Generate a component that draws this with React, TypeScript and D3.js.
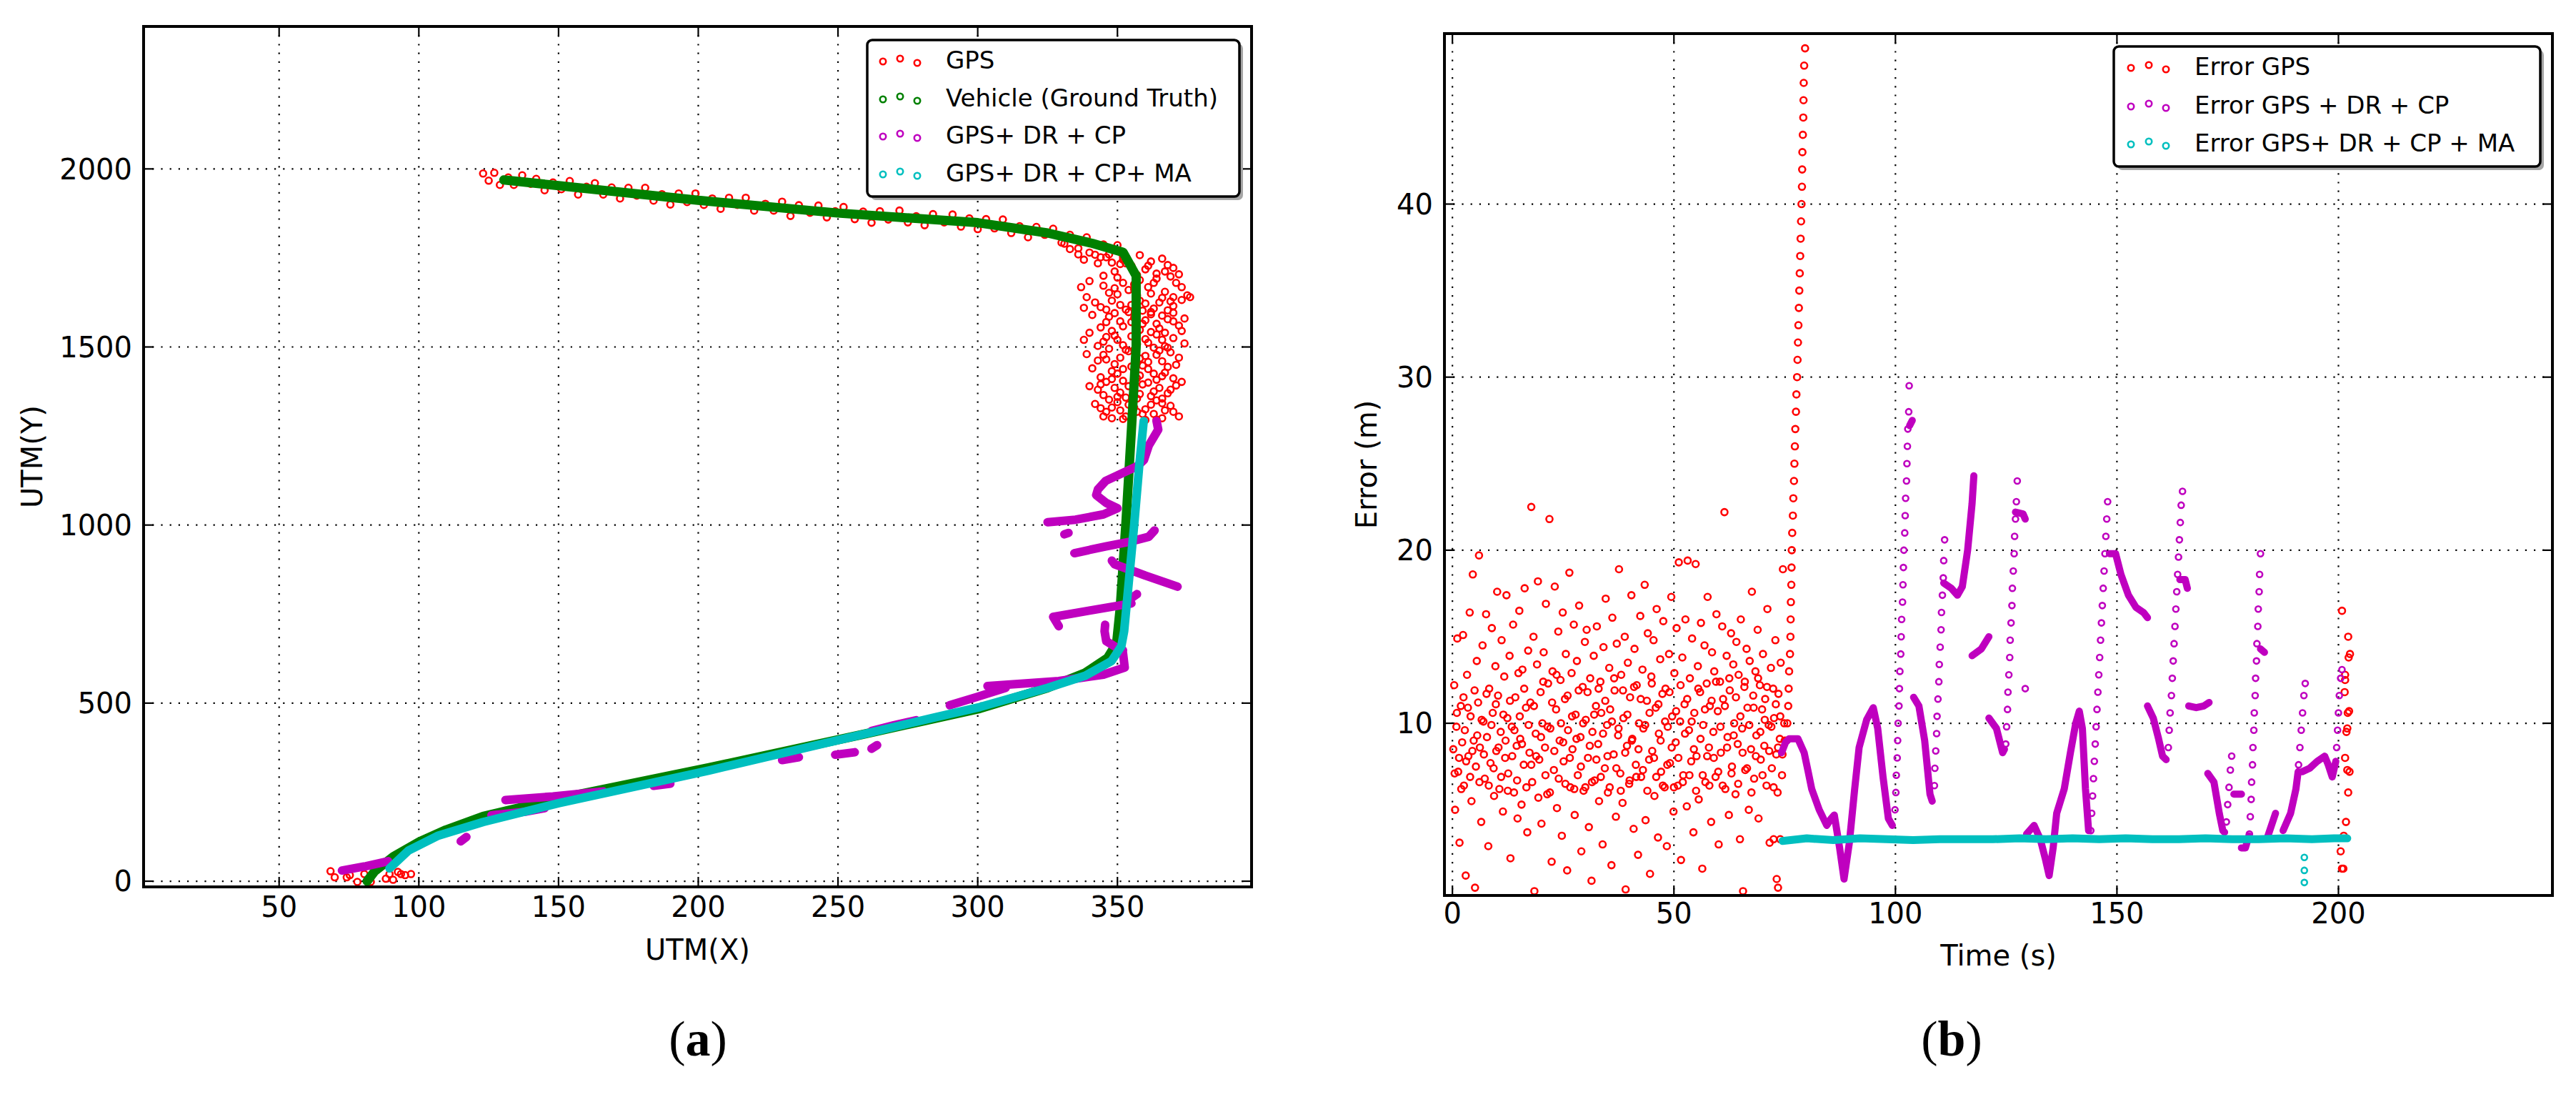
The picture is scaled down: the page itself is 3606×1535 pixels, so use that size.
import React from "react";
import * as d3 from "d3";

// ---- panel (a): trajectory in UTM ----
const xTicksA = [50, 100, 150, 200, 250, 300, 350];
const yTicksA = [0, 500, 1000, 1500, 2000];
const legendA = ["GPS", "Vehicle (Ground Truth)", "GPS+ DR + CP", "GPS+ DR + CP+ MA"];

// GPS fixes along the top leg
const gpsTop: [number, number][] = [
  [123, 1987], [125, 1967], [127, 1989], [129, 1955], [132, 1976], [134, 1955], [137, 1982], [140, 1958],
  [142, 1972], [145, 1940], [148, 1962], [151, 1943], [154, 1966], [157, 1928], [160, 1950], [163, 1960],
  [166, 1928], [169, 1948], [172, 1917], [175, 1947], [178, 1925], [181, 1947], [184, 1911], [187, 1929],
  [190, 1900], [193, 1931], [196, 1907], [199, 1931], [202, 1899], [205, 1917], [208, 1888], [211, 1919],
  [214, 1899], [217, 1919], [220, 1883], [224, 1902], [227, 1883], [230, 1908], [233, 1868], [236, 1898],
  [240, 1877], [243, 1897], [246, 1864], [249, 1881], [252, 1893], [256, 1859], [259, 1880], [262, 1849],
  [265, 1881], [268, 1858], [272, 1883], [275, 1850], [278, 1867], [281, 1842], [284, 1873], [288, 1850],
  [291, 1872], [294, 1838], [297, 1861], [300, 1831], [303, 1859], [306, 1833], [309, 1858], [312, 1820],
  [315, 1839], [318, 1808], [321, 1837], [324, 1815], [327, 1832], [330, 1793], [333, 1815], [336, 1777],
  [339, 1808], [342, 1759], [345, 1788], [348, 1737], [350, 1786], [352, 1754],
  [333, 1775], [336, 1760], [338, 1745], [340, 1765], [344, 1752], [331, 1790],
];

// GPS fixes scattered around the turn and the northbound leg
const gpsCluster: [number, number][] = [
  [346, 1752], [352, 1745], [358, 1758], [362, 1740], [366, 1748], [370, 1722], [355, 1728], [349, 1712],
  [360, 1718], [364, 1706], [343, 1735], [372, 1704], [357, 1702], [351, 1733], [368, 1730],
  [340, 1685], [345, 1672], [350, 1695], [354, 1660], [358, 1688], [361, 1668], [364, 1692], [367, 1655],
  [371, 1680], [375, 1645], [347, 1652], [356, 1676], [362, 1650], [369, 1698], [352, 1680], [373, 1668],
  [339, 1640], [344, 1612], [348, 1630], [353, 1605], [357, 1645], [360, 1622], [363, 1608], [366, 1638],
  [370, 1615], [373, 1632], [350, 1648], [355, 1618], [359, 1602], [365, 1625], [342, 1625], [368, 1603],
  [341, 1590], [346, 1570], [349, 1595], [352, 1558], [356, 1582], [359, 1565], [362, 1592], [365, 1552],
  [368, 1578], [372, 1560], [344, 1555], [354, 1598], [360, 1575], [366, 1588], [351, 1572], [370, 1596],
  [340, 1540], [345, 1515], [348, 1545], [352, 1505], [355, 1530], [358, 1548], [361, 1512], [364, 1535],
  [367, 1502], [370, 1525], [373, 1545], [350, 1520], [357, 1508], [362, 1542], [343, 1503], [366, 1520],
  [339, 1480], [343, 1462], [347, 1495], [351, 1470], [354, 1488], [357, 1455], [360, 1475], [363, 1498],
  [366, 1460], [369, 1485], [372, 1470], [349, 1452], [356, 1492], [361, 1458], [345, 1478], [365, 1490],
  [341, 1440], [344, 1415], [348, 1432], [352, 1405], [355, 1445], [358, 1420], [361, 1438], [364, 1408],
  [367, 1428], [370, 1412], [346, 1402], [350, 1425], [359, 1448], [363, 1425], [368, 1444], [373, 1402],
  [340, 1390], [345, 1365], [349, 1385], [353, 1358], [356, 1378], [359, 1395], [362, 1362], [365, 1385],
  [368, 1370], [371, 1392], [347, 1352], [351, 1372], [357, 1355], [363, 1375], [343, 1380], [366, 1355],
  [342, 1340], [346, 1318], [350, 1345], [353, 1305], [356, 1330], [359, 1312], [362, 1338], [364, 1296],
  [367, 1322], [372, 1305], [348, 1300], [355, 1292], [360, 1325], [344, 1328], [366, 1342], [351, 1322],
  [347, 1760], [353, 1735], [361, 1728], [367, 1712], [345, 1700], [356, 1662], [363, 1680], [349, 1665],
  [370, 1640], [358, 1630], [346, 1605], [351, 1618], [369, 1628], [362, 1598], [355, 1570], [347, 1585],
  [364, 1565], [370, 1572], [357, 1538], [349, 1532], [367, 1540], [360, 1522], [346, 1528], [353, 1492],
  [368, 1498], [358, 1468], [346, 1465], [364, 1478], [371, 1450], [352, 1438], [357, 1412], [366, 1418],
  [348, 1410], [361, 1400], [354, 1390], [369, 1380], [344, 1395], [358, 1368], [350, 1360], [364, 1350],
  [348, 1330], [357, 1318], [363, 1312], [369, 1335], [354, 1338], [345, 1305], [360, 1295], [370, 1318],
  [352, 1298], [366, 1300], [374, 1580], [376, 1640], [337, 1668], [338, 1610], [374, 1510], [338, 1520],
];

// GPS fixes near the start point
const gpsStart: [number, number][] = [
  [68.4, 28], [69.9, 11], [74.2, 11], [75.3, 17], [78, -2], [80.5, 20], [82.8, -2], [88.2, 7],
  [89.5, 20], [90.8, 4], [92.5, 26], [93.6, 20], [95.1, 17], [97.2, 20],
];

const truthPath: [number, number][] = [
  [130.4, 1969], [150, 1953], [200, 1912], [250, 1876], [300, 1849], [325, 1820], [341, 1791], [352, 1766],
  [356.7, 1700], [356.7, 1500], [355, 1267], [353, 1001], [351, 768], [349.7, 668], [346.5, 627],
  [338.5, 585], [325, 543], [300.8, 485], [257.7, 410], [203.9, 319], [150, 232], [123, 182], [109.7, 144],
  [100.3, 111], [90.9, 69], [84.2, 28], [81.5, 0],
];

const maPath: [number, number][] = [
  [359.4, 1292], [357.8, 1167], [356, 1001], [354, 835], [352.4, 702], [351.4, 660], [347.9, 618],
  [338.5, 577], [325, 543], [300.8, 489], [284.6, 460], [257.7, 410], [203.9, 311], [150, 219], [123, 166],
  [107, 128], [96.3, 86], [89.5, 36],
];

const drcpPieces: [number, number][][] = [
  [[72.5, 30], [81, 42], [89, 56]],
  [[115, 112], [117, 124]],
  [[126, 185], [138, 195], [145, 205]],
  [[131, 228], [148, 238], [166, 252]],
  [[184, 268], [190, 274]],
  [[230, 340], [236, 348]],
  [[249, 355], [256, 362]],
  [[262, 422], [270, 438], [278, 452]],
  [[262, 372], [264, 382]],
  [[290, 494], [300, 518], [310, 543]],
  [[303.5, 548], [329, 562], [345, 580], [352.6, 600], [352, 640]],
  [[352, 648], [349.7, 656], [346, 674], [345.4, 702], [345.6, 720]],
  [[329, 716], [327, 742], [340, 760], [355, 780]],
  [[355, 795], [357, 806]],
  [[348, 900], [349, 890], [360, 858], [371.5, 827]],
  [[334.6, 921], [345.8, 940], [354.3, 953], [361.2, 967], [363.3, 985]],
  [[331, 974], [332.5, 978]],
  [[325, 1008], [335, 1015], [345, 1030], [350, 1047], [346, 1062], [342.4, 1084], [343, 1100], [345.8, 1124],
    [357, 1165], [359.5, 1183], [361.2, 1223], [364.6, 1268], [364, 1292]],
];

// ---- panel (b): error over time ----
const xTicksB = [0, 50, 100, 150, 200];
const yTicksB = [10, 20, 30, 40];
const legendB = ["Error GPS", "Error GPS + DR + CP", "Error GPS+ DR + CP + MA"];

const errGps: [number, number][] = [
  [0.2, 8.5], [0.4, 12.2], [0.6, 5.0], [0.9, 9.8], [1.1, 14.9], [1.3, 7.2], [1.6, 3.1], [1.9, 11.0], [2.2, 8.9], [2.4, 15.1],
  [2.6, 6.4], [2.8, 9.6], [3.0, 1.2], [3.3, 12.8], [3.6, 8.1], [3.9, 16.4], [4.1, 10.4], [4.3, 5.5], [4.6, 18.6], [4.8, 9.0],
  [5.1, 0.5], [5.3, 7.5], [5.5, 13.6], [5.8, 11.2], [6.0, 19.7], [6.2, 8.6], [6.5, 4.3], [6.8, 14.5], [7.0, 10.1], [7.3, 6.8],
  [7.6, 16.3], [7.8, 9.2], [8.1, 2.9], [8.3, 12.0], [8.6, 7.7], [8.9, 15.5], [9.1, 10.6], [9.4, 5.8], [9.7, 13.3], [9.9, 8.4],
  [10.1, 17.6], [10.3, 11.6], [10.6, 6.2], [10.9, 9.5], [11.1, 14.8], [11.4, 4.9], [11.7, 12.7], [11.9, 8.0], [12.2, 17.4], [12.4, 10.3],
  [12.6, 7.1], [12.9, 13.9], [13.1, 2.2], [13.4, 9.8], [13.7, 15.7], [13.9, 6.0], [14.2, 11.5], [14.5, 8.7], [14.7, 4.5], [14.9, 12.9],
  [15.1, 16.5], [15.3, 9.1], [15.6, 5.3], [15.8, 13.1], [16.1, 7.6], [16.3, 17.8], [16.6, 10.9], [16.9, 3.7], [17.1, 14.2], [17.4, 8.3],
  [17.6, 11.2], [17.8, 22.5], [18.0, 6.6], [18.3, 15.0], [18.5, 0.3], [18.8, 9.4], [19.1, 13.4], [19.3, 18.2], [19.6, 7.9], [19.9, 11.8],
  [20.1, 4.2], [20.3, 10.0], [20.6, 14.1], [20.9, 8.6], [21.1, 16.9], [21.4, 5.9], [21.6, 12.3], [21.9, 21.8], [22.1, 9.7], [22.4, 2.0],
  [22.6, 13.0], [22.9, 7.3], [23.1, 17.9], [23.4, 10.8], [23.6, 5.1], [23.9, 15.3], [24.2, 9.0], [24.4, 12.5], [24.7, 3.5], [24.9, 16.4],
  [25.1, 7.8], [25.4, 11.4], [25.6, 14.0], [25.9, 1.5], [26.1, 9.6], [26.4, 18.7], [26.6, 6.3], [26.9, 12.9], [27.1, 8.5], [27.4, 15.7],
  [27.6, 4.7], [27.8, 10.5], [28.1, 13.6], [28.3, 7.0], [28.6, 16.8], [28.9, 9.2], [29.1, 2.6], [29.4, 12.1], [29.6, 6.1], [29.9, 14.7],
  [30.1, 10.2], [30.3, 15.4], [30.6, 8.0], [30.8, 4.0], [31.1, 12.6], [31.4, 0.9], [31.6, 9.5], [31.9, 13.9], [32.1, 6.7], [32.4, 11.0],
  [32.6, 15.6], [32.9, 8.8], [33.1, 5.5], [33.4, 12.4], [33.6, 10.6], [33.9, 3.0], [34.1, 14.4], [34.4, 7.4], [34.6, 17.2], [34.9, 9.9],
  [35.1, 6.0], [35.4, 13.2], [35.6, 10.8], [35.9, 1.8], [36.1, 16.1], [36.4, 8.2], [36.6, 11.9], [36.9, 4.6], [37.1, 14.6], [37.4, 9.3],
  [37.6, 18.9], [37.9, 7.1], [38.1, 12.8], [38.4, 5.4], [38.6, 10.3], [38.9, 15.0], [39.1, 0.4], [39.4, 8.7], [39.6, 13.5], [39.9, 6.5],
  [40.1, 11.5], [40.4, 17.4], [40.6, 9.1], [40.9, 3.9], [41.1, 14.3], [41.4, 7.6], [41.6, 12.2], [41.9, 2.4], [42.1, 10.0], [42.4, 16.2],
  [42.6, 6.9], [42.9, 13.1], [43.1, 9.7], [43.4, 18.0], [43.6, 4.4], [43.9, 11.3], [44.1, 15.2], [44.4, 7.9], [44.6, 1.3], [44.9, 12.7],
  [45.1, 8.4], [45.4, 14.8], [45.6, 5.8], [45.9, 10.9], [46.1, 16.6], [46.4, 3.4], [46.6, 9.4], [46.9, 13.7], [47.1, 7.2], [47.4, 11.7],
  [47.6, 15.9], [47.9, 6.3], [48.1, 12.0], [48.4, 2.9], [48.6, 9.8], [48.9, 14.0], [49.1, 7.7], [49.4, 17.3], [49.6, 10.4], [49.9, 4.9],
  [50.1, 12.9], [50.4, 8.9], [50.6, 15.5], [50.9, 6.4], [51.1, 19.3], [51.4, 10.1], [51.6, 2.1], [51.9, 13.8], [52.1, 7.0], [52.4, 11.1],
  [52.6, 16.0], [52.9, 5.2], [53.1, 19.4], [53.4, 9.6], [53.6, 12.6], [53.9, 7.8], [54.1, 14.9], [54.4, 3.7], [54.6, 10.6], [54.9, 19.2],
  [55.1, 8.1], [55.4, 13.3], [55.6, 5.6], [55.9, 11.8], [56.1, 15.8], [56.4, 1.6], [56.6, 9.9], [56.9, 14.5], [57.1, 6.6], [57.4, 12.3],
  [57.6, 17.3], [57.9, 8.6], [58.1, 11.0], [58.4, 4.3], [58.6, 14.1], [58.9, 9.5], [59.1, 13.0], [59.4, 6.9], [59.6, 16.3], [59.9, 10.7],
  [60.1, 3.0], [60.4, 12.4], [60.6, 8.3], [60.9, 15.6], [61.1, 11.4], [61.4, 22.2], [61.6, 6.2], [61.9, 13.9], [62.1, 9.2], [62.4, 4.7],
  [62.6, 11.9], [62.9, 15.2], [63.1, 7.5], [63.4, 13.4], [63.6, 10.0], [63.9, 5.9], [64.1, 14.7], [64.4, 8.8], [64.6, 12.8], [64.9, 3.3],
  [65.1, 16.0], [65.4, 9.7], [65.6, 0.3], [65.9, 12.1], [66.1, 7.3], [66.4, 14.3], [66.6, 10.9], [66.9, 5.0], [67.1, 13.6], [67.4, 8.5],
  [67.6, 17.6], [67.9, 11.6], [68.1, 6.8], [68.4, 13.0], [68.6, 9.3], [68.9, 15.4], [69.1, 4.5], [69.4, 12.2], [69.6, 7.9], [69.9, 10.8],
  [70.1, 14.0], [70.4, 8.7], [70.6, 11.4], [70.9, 6.4], [71.1, 16.6], [71.4, 9.9], [71.6, 3.1], [71.9, 13.2], [72.1, 7.4], [72.4, 12.0],
  [72.6, 10.3], [72.9, 14.8], [73.1, 8.2], [73.4, 6.0], [73.6, 11.7], [73.9, 9.1], [74.1, 13.5], [74.4, 7.0], [74.6, 18.9], [74.9, 10.0],
  [73.2, 1.0], [73.5, 0.5], [72.5, 3.3], [74.0, 3.3],
];

// the crowded middle band of the GPS error
const errGpsCore: [number, number][] = [
  [0.5, 7.1], [1.0, 10.6], [1.5, 8.0], [2.0, 6.2], [2.5, 11.5], [3.1, 7.8], [3.5, 10.9], [4.0, 6.9], [4.5, 8.4], [5.0, 11.9],
  [5.6, 9.3], [6.1, 6.6], [6.6, 10.2], [7.1, 8.2], [7.7, 11.7], [8.2, 6.4], [8.8, 9.9], [9.3, 7.4], [9.8, 11.1], [10.4, 8.6],
  [11.0, 6.9], [11.5, 10.5], [12.0, 9.0], [12.5, 6.1], [13.0, 11.3], [13.5, 8.1], [14.0, 9.6], [14.6, 6.7], [15.2, 10.4], [15.7, 8.8],
  [16.2, 12.0], [16.7, 6.3], [17.2, 9.9], [17.8, 7.6], [18.4, 11.0], [18.9, 8.1], [19.4, 5.7], [20.0, 9.2], [20.5, 12.4], [21.0, 7.0],
  [21.5, 9.8], [22.0, 6.0], [22.5, 11.2], [23.0, 8.4], [23.5, 12.8], [24.0, 6.8], [24.5, 10.0], [25.0, 8.9], [25.5, 6.5], [26.0, 11.6],
  [26.5, 8.0], [27.0, 10.4], [27.5, 6.2], [28.0, 9.1], [28.5, 11.9], [29.0, 7.5], [29.5, 10.0], [30.0, 6.3], [30.5, 11.8], [31.0, 8.7],
  [31.5, 6.6], [32.0, 10.5], [32.5, 7.9], [33.0, 12.0], [33.5, 6.9], [34.0, 9.4], [34.5, 11.3], [35.0, 8.1], [35.5, 6.3], [36.0, 10.1],
  [36.5, 12.6], [37.0, 7.4], [37.5, 9.7], [38.0, 6.1], [38.5, 11.9], [39.0, 8.3], [39.5, 10.5], [40.0, 6.7], [40.5, 9.0], [41.0, 12.1],
  [41.5, 6.9], [42.0, 8.5], [42.5, 11.4], [43.0, 7.3], [43.5, 9.9], [44.0, 6.1], [44.5, 10.6], [45.0, 12.3], [45.5, 8.0], [46.0, 6.9],
  [46.5, 11.1], [47.0, 9.0], [47.5, 6.4], [48.0, 10.1], [48.5, 7.6], [49.0, 11.8], [49.5, 8.6], [50.0, 6.3], [50.5, 10.7], [51.0, 8.0],
  [51.5, 12.2], [52.0, 6.6], [52.5, 9.4], [53.0, 11.4], [53.5, 7.0], [54.0, 10.1], [54.5, 8.5], [55.0, 6.1], [55.5, 12.0], [56.0, 9.1],
  [56.5, 7.0], [57.0, 10.8], [57.5, 8.1], [58.0, 6.4], [58.5, 11.3], [59.0, 8.0], [59.5, 12.4], [60.0, 7.2], [60.5, 9.8], [61.0, 6.4],
  [61.5, 11.0], [62.0, 8.6], [62.5, 12.6], [63.0, 7.1], [63.5, 9.3], [64.0, 11.5], [64.5, 6.5], [65.0, 10.4], [65.5, 8.3], [66.0, 12.4],
  [66.5, 7.4], [67.0, 9.9], [67.5, 6.0], [68.0, 10.9], [68.5, 8.1], [69.0, 12.6], [69.5, 9.5], [70.0, 7.0], [70.5, 10.2], [71.0, 12.1],
  [71.5, 8.4], [72.0, 9.8], [72.5, 6.3], [73.0, 11.1], [73.5, 8.6], [74.0, 10.4], [74.5, 8.2], [75.0, 9.0],
];

// GPS error climbing while the fix drifts away
const errGpsJump: [number, number][] = [
  [75.4, 9], [75.6, 10], [75.8, 11], [75.9, 12], [76.0, 13], [76.2, 14], [76.3, 15], [76.35, 16], [76.4, 17],
  [76.5, 18], [76.55, 19], [76.6, 20], [76.7, 21], [76.85, 22], [76.95, 23], [77.1, 24], [77.2, 25], [77.3, 26],
  [77.4, 27], [77.55, 28], [77.65, 29], [77.8, 30], [77.9, 31], [78.0, 32], [78.1, 33], [78.2, 34], [78.3, 35],
  [78.4, 36], [78.5, 37], [78.6, 38], [78.7, 39], [78.8, 40], [78.9, 41], [78.95, 42], [79.0, 43], [79.1, 44],
  [79.2, 45], [79.25, 46], [79.3, 47], [79.4, 48], [79.6, 49],
];

const errGpsEnd: [number, number][] = [
  [200.8, 16.5], [202.2, 15.0], [202.6, 14.0], [202.3, 13.8], [201.5, 12.5], [201.4, 11.8], [202.4, 10.7],
  [202.1, 10.6], [201.8, 9.5], [201.5, 8.0], [202.0, 7.3], [202.5, 7.2], [202.2, 6.0], [201.7, 4.3], [201.2, 3.5],
  [200.5, 2.6], [200.8, 1.6], [201.1, 1.6], [201.5, 12.8], [202.0, 9.7],
];

// dense (continuous-looking) stretches of the DR + CP error
const errDrcpPieces: [number, number][][] = [
  [[74.3, 8.3], [75.2, 8.9], [76, 9.1], [78, 9.1], [79.4, 8.3], [80.3, 7.2], [81.1, 6.2], [82.8, 5.0], [84.5, 4.1],
    [85.5, 4.5], [86.2, 4.7], [87.4, 2.8], [88.4, 1.0], [89.6, 3.1], [90.8, 6.2], [91.8, 8.6], [93.5, 10.2],
    [95, 10.9], [96, 9.7], [97.2, 6.9], [98.4, 4.5], [99.3, 4.1]],
  [[103.2, 27.2], [103.8, 27.5]],
  [[104.1, 11.5], [105.3, 11], [106.6, 9], [107.8, 5.9], [108.3, 5.5]],
  [[110.9, 18.1], [112.6, 17.8], [114, 17.4], [115.1, 17.9], [116.3, 20], [117.3, 22.7], [117.7, 24.3]],
  [[117.3, 13.9], [119.4, 14.3], [121.1, 15.0]],
  [[121.1, 10.3], [122.8, 9.7], [124.2, 8.3], [124.6, 8.5]],
  [[127.1, 22.2], [128.8, 22.1], [129.3, 21.8]],
  [[129.6, 3.6], [131.3, 4.1], [132.7, 3.3], [133.9, 2.1], [134.7, 1.2], [135.6, 2.8], [136.4, 4.8], [138.1, 6.2],
    [139.5, 8.3], [140.7, 10], [141.5, 10.7], [142.2, 9.7], [142.9, 6.2], [143.6, 3.8]],
  [[148.3, 19.8], [149.7, 19.8], [150.9, 18.6], [152.6, 17.4], [154.3, 16.7], [156, 16.4], [156.9, 16.1]],
  [[156.9, 11.0], [158.2, 10.3], [159.4, 9.1], [160.3, 8.1], [161.1, 7.9]],
  [[164.2, 18.3], [165.4, 18.3], [165.9, 17.8]],
  [[166.2, 11], [167.9, 10.9], [169.6, 11], [170.8, 11.2]],
  [[170.5, 7.1], [171.9, 6.6], [173.1, 4.8], [173.9, 3.8], [174.3, 3.7]],
  [[176.4, 5.9], [178.1, 5.9]],
  [[178.1, 2.8], [179, 2.8], [179.8, 3.5]],
  [[182.4, 14.3], [183.3, 14.1]],
  [[184.1, 3.5], [185.8, 4.8]],
  [[187.5, 3.8], [189.2, 4.8], [190.4, 6.2], [190.9, 7.2]],
  [[191.8, 7.2], [193.5, 7.4], [195.2, 7.8], [196.9, 8.1], [197.7, 7.6], [198.6, 6.9], [199.4, 7.8]],
];

// sparse climbs of the DR + CP error, one marker per sample
const errDrcpClimbs: [number, number][] = [
  [99.9, 5], [100.1, 6], [100.2, 7], [100.4, 8], [100.5, 9], [100.6, 10], [100.8, 11], [100.9, 12], [101.0, 13],
  [101.2, 14], [101.3, 15], [101.4, 16], [101.6, 17], [101.7, 18], [101.8, 19], [101.9, 20], [102.1, 21], [102.2, 22],
  [102.3, 23], [102.5, 24], [102.6, 25], [102.7, 26], [102.8, 27], [103.0, 28], [103.1, 29.5],
  [108.8, 6.4], [108.9, 7.4], [109.1, 8.4], [109.3, 9.4], [109.4, 10.4], [109.6, 11.4], [109.8, 12.4], [109.9, 13.4],
  [110.1, 14.4], [110.3, 15.4], [110.4, 16.4], [110.6, 17.4], [110.8, 18.4], [110.9, 19.4], [111.1, 20.6],
  [124.9, 8.8], [125.1, 9.8], [125.3, 10.8], [125.4, 11.8], [125.6, 12.8], [125.8, 13.8], [125.9, 14.8], [126.1, 15.8],
  [126.3, 16.8], [126.4, 17.8], [126.6, 18.8], [126.8, 19.8], [126.9, 20.8], [127.1, 21.8], [127.3, 22.8], [127.5, 24.0],
  [129.3, 12.0],
  [144.1, 3.8], [144.3, 4.8], [144.5, 5.8], [144.7, 6.8], [144.9, 7.8], [145.1, 8.8], [145.3, 9.8], [145.5, 10.8],
  [145.7, 11.8], [145.9, 12.8], [146.1, 13.8], [146.3, 14.8], [146.5, 15.8], [146.7, 16.8], [146.9, 17.8], [147.1, 18.8],
  [147.3, 19.8], [147.5, 20.8], [147.7, 21.8], [147.9, 22.8],
  [161.6, 8.6], [161.8, 9.6], [162.0, 10.6], [162.3, 11.6], [162.5, 12.6], [162.7, 13.6], [162.9, 14.6], [163.1, 15.6],
  [163.3, 16.6], [163.5, 17.6], [163.7, 18.6], [163.9, 19.6], [164.1, 20.6], [164.3, 21.6], [164.5, 22.6], [164.8, 23.4],
  [174.7, 4.3], [175.0, 5.3], [175.3, 6.3], [175.6, 7.3], [175.9, 8.1],
  [179.9, 3.6], [180.1, 4.6], [180.3, 5.6], [180.4, 6.6], [180.6, 7.6], [180.7, 8.6], [180.9, 9.6], [181.0, 10.6],
  [181.2, 11.6], [181.3, 12.6], [181.5, 13.6], [181.6, 14.6], [181.8, 15.6], [181.9, 16.6], [182.1, 17.6], [182.2, 18.6],
  [182.4, 19.8],
  [191.0, 7.6], [191.3, 8.6], [191.6, 9.6], [191.9, 10.6], [192.2, 11.6], [192.5, 12.3],
  [199.6, 8.6], [199.8, 9.6], [200.0, 10.6], [200.2, 11.6], [200.5, 12.6], [200.8, 13.1],
];

const errMa: [number, number][] = [
  [74.5, 3.2], [80, 3.35], [86, 3.25], [92, 3.35], [98, 3.3], [104, 3.25], [110, 3.3], [116, 3.3], [122, 3.3],
  [128, 3.35], [134, 3.3], [140, 3.35], [146, 3.3], [152, 3.35], [158, 3.3], [164, 3.3], [170, 3.35], [176, 3.3],
  [182, 3.3], [188, 3.35], [194, 3.3], [199, 3.35], [202, 3.35],
];
const errMaDrop: [number, number][] = [[192.3, 2.25], [192.3, 1.5], [192.3, 0.8]];

const RED = "#ff0000";
const GREEN = "#008000";
const MAGENTA = "#bf00bf";
const CYAN = "#00bfbf";
const FONT = "DejaVu Sans";

type Box = { left: number; right: number; top: number; bottom: number };
type Scale = d3.ScaleLinear<number, number>;

const boxA: Box = { left: 201, right: 1752, top: 37, bottom: 1241 };
const boxB: Box = { left: 2022, right: 3573, top: 47, bottom: 1253 };

function Axes({ box, x, y, xTicks, yTicks, xLabel, yLabel, xLabelY, tickLabelY, yLabelX }: {
  box: Box; x: Scale; y: Scale; xTicks: number[]; yTicks: number[];
  xLabel: string; yLabel: string; xLabelY: number; tickLabelY: number; yLabelX: number;
}) {
  const tl = 14;
  return (
    <g>
      {xTicks.map((t) => (
        <g key={"x" + t}>
          <line x1={x(t)} x2={x(t)} y1={box.top} y2={box.bottom} stroke="#000" strokeWidth={2.2} strokeDasharray="2.2,10" />
          <line x1={x(t)} x2={x(t)} y1={box.bottom} y2={box.bottom - tl} stroke="#000" strokeWidth={2.2} />
          <line x1={x(t)} x2={x(t)} y1={box.top} y2={box.top + tl} stroke="#000" strokeWidth={2.2} />
          <text x={x(t)} y={tickLabelY} textAnchor="middle" fontSize={40} fontFamily={FONT}>{t}</text>
        </g>
      ))}
      {yTicks.map((t) => (
        <g key={"y" + t}>
          <line x1={box.left} x2={box.right} y1={y(t)} y2={y(t)} stroke="#000" strokeWidth={2.2} strokeDasharray="2.2,10" />
          <line x1={box.left} x2={box.left + tl} y1={y(t)} y2={y(t)} stroke="#000" strokeWidth={2.2} />
          <line x1={box.right} x2={box.right - tl} y1={y(t)} y2={y(t)} stroke="#000" strokeWidth={2.2} />
          <text x={box.left - 16} y={y(t)} dy="0.36em" textAnchor="end" fontSize={40} fontFamily={FONT}>{t}</text>
        </g>
      ))}
      <text x={(box.left + box.right) / 2} y={xLabelY} textAnchor="middle" fontSize={40} fontFamily={FONT}>{xLabel}</text>
      <text transform={`translate(${yLabelX},${(box.top + box.bottom) / 2}) rotate(-90)`} dy="0.36em"
        textAnchor="middle" fontSize={40} fontFamily={FONT}>{yLabel}</text>
    </g>
  );
}

function Legend({ left, top, right, bottom, rows, colors, rowY, markX, textX }: {
  left: number; top: number; right: number; bottom: number; rows: string[]; colors: string[];
  rowY: number[]; markX: number[]; textX: number;
}) {
  const bump = [2, -2, 4];
  return (
    <g>
      <rect x={left + 5} y={top + 5} width={right - left} height={bottom - top} rx={7} fill="#a6a6a6" />
      <rect x={left} y={top} width={right - left} height={bottom - top} rx={7} fill="#fff" stroke="#000" strokeWidth={3.5} />
      {rows.map((r, i) => (
        <g key={r}>
          {markX.map((mx, j) => (
            <circle key={j} cx={mx} cy={rowY[i] + bump[j]} r={4.2} fill="none" stroke={colors[i]} strokeWidth={2.6} />
          ))}
          <text x={textX} y={rowY[i]} dy="0.36em" fontSize={34} fontFamily={FONT}>{r}</text>
        </g>
      ))}
    </g>
  );
}

function Dots({ pts, x, y, color, r = 4.5 }: { pts: [number, number][]; x: Scale; y: Scale; color: string; r?: number }) {
  return (
    <g>
      {pts.map((p, i) => (
        <circle key={i} cx={x(p[0])} cy={y(p[1])} r={r} fill="none" stroke={color} strokeWidth={2.6} />
      ))}
    </g>
  );
}

function Trace({ pts, x, y, color, width }: { pts: [number, number][]; x: Scale; y: Scale; color: string; width: number }) {
  const line = d3.line<[number, number]>().x((d) => x(d[0])).y((d) => y(d[1]));
  return <path d={line(pts) || ""} fill="none" stroke={color} strokeWidth={width} strokeLinecap="round" strokeLinejoin="round" />;
}

function Caption({ x, y, letter }: { x: number; y: number; letter: string }) {
  return (
    <text x={x} y={y} textAnchor="middle" fontSize={70} fontFamily="Liberation Serif">
      (<tspan fontWeight="bold">{letter}</tspan>)
    </text>
  );
}

export default function App() {
  const xA = d3.scaleLinear().domain([1.5, 398]).range([boxA.left, boxA.right]);
  const yA = d3.scaleLinear().domain([-16, 2400]).range([boxA.bottom, boxA.top]);
  const xB = d3.scaleLinear().domain([-1.8, 248.3]).range([boxB.left, boxB.right]);
  const yB = d3.scaleLinear().domain([0.05, 49.85]).range([boxB.bottom, boxB.top]);

  return (
    <svg width={3606} height={1535} style={{ position: "absolute", left: 0, top: 0, background: "#fff" }}>
      <defs>
        <clipPath id="clipA">
          <rect x={boxA.left} y={boxA.top} width={boxA.right - boxA.left} height={boxA.bottom - boxA.top} />
        </clipPath>
        <clipPath id="clipB">
          <rect x={boxB.left} y={boxB.top} width={boxB.right - boxB.left} height={boxB.bottom - boxB.top} />
        </clipPath>
      </defs>
      <rect x={0} y={0} width={3606} height={1535} fill="#fff" />

      {/* panel (a) */}
      <Axes box={boxA} x={xA} y={yA} xTicks={xTicksA} yTicks={yTicksA} xLabel="UTM(X)" yLabel="UTM(Y)"
        xLabelY={1343} tickLabelY={1283} yLabelX={45} />
      <g clipPath="url(#clipA)">
        <Dots pts={gpsTop} x={xA} y={yA} color={RED} />
        <Dots pts={gpsCluster} x={xA} y={yA} color={RED} />
        <Dots pts={gpsStart} x={xA} y={yA} color={RED} />
        <Trace pts={truthPath} x={xA} y={yA} color={GREEN} width={13} />
        {drcpPieces.map((p, i) => (
          <Trace key={i} pts={p} x={xA} y={yA} color={MAGENTA} width={12} />
        ))}
        <Trace pts={maPath} x={xA} y={yA} color={CYAN} width={12} />
      </g>
      <rect x={boxA.left} y={boxA.top} width={boxA.right - boxA.left} height={boxA.bottom - boxA.top}
        fill="none" stroke="#000" strokeWidth={4} />
      <Legend left={1214} top={56} right={1735} bottom={275} rows={legendA}
        colors={[RED, GREEN, MAGENTA, CYAN]} rowY={[84, 137, 189, 242]} markX={[1236, 1260, 1284]} textX={1324} />
      <Caption x={977} y={1477} letter="a" />

      {/* panel (b) */}
      <Axes box={boxB} x={xB} y={yB} xTicks={xTicksB} yTicks={yTicksB} xLabel="Time (s)" yLabel="Error (m)"
        xLabelY={1351} tickLabelY={1292} yLabelX={1913} />
      <g clipPath="url(#clipB)">
        <Dots pts={errGps} x={xB} y={yB} color={RED} />
        <Dots pts={errGpsCore} x={xB} y={yB} color={RED} />
        <Dots pts={errGpsJump} x={xB} y={yB} color={RED} />
        <Dots pts={errGpsEnd} x={xB} y={yB} color={RED} />
        {errDrcpPieces.map((p, i) => (
          <Trace key={i} pts={p} x={xB} y={yB} color={MAGENTA} width={10} />
        ))}
        <Dots pts={errDrcpClimbs} x={xB} y={yB} color={MAGENTA} r={4} />
        <Trace pts={errMa} x={xB} y={yB} color={CYAN} width={11} />
        <Dots pts={errMaDrop} x={xB} y={yB} color={CYAN} r={4} />
      </g>
      <rect x={boxB.left} y={boxB.top} width={boxB.right - boxB.left} height={boxB.bottom - boxB.top}
        fill="none" stroke="#000" strokeWidth={4} />
      <Legend left={2959} top={65} right={3556} bottom={233} rows={legendB}
        colors={[RED, MAGENTA, CYAN]} rowY={[93, 147, 200]} markX={[2983, 3008, 3032]} textX={3072} />
      <Caption x={2732} y={1477} letter="b" />
    </svg>
  );
}
